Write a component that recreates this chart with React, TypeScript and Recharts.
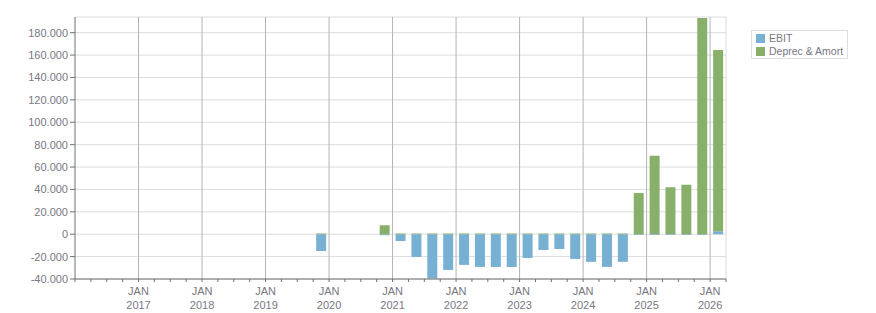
import React from 'react';
import { BarChart, Bar, XAxis, YAxis, CartesianGrid, ReferenceLine } from 'recharts';

// one entry per quarter, Q1 2016 .. Q1 2026
const quarters = [
  'Q1 2016', 'Q2 2016', 'Q3 2016', 'Q4 2016',
  'Q1 2017', 'Q2 2017', 'Q3 2017', 'Q4 2017',
  'Q1 2018', 'Q2 2018', 'Q3 2018', 'Q4 2018',
  'Q1 2019', 'Q2 2019', 'Q3 2019', 'Q4 2019',
  'Q1 2020', 'Q2 2020', 'Q3 2020', 'Q4 2020',
  'Q1 2021', 'Q2 2021', 'Q3 2021', 'Q4 2021',
  'Q1 2022', 'Q2 2022', 'Q3 2022', 'Q4 2022',
  'Q1 2023', 'Q2 2023', 'Q3 2023', 'Q4 2023',
  'Q1 2024', 'Q2 2024', 'Q3 2024', 'Q4 2024',
  'Q1 2025', 'Q2 2025', 'Q3 2025', 'Q4 2025',
  'Q1 2026',
];

const ebit: (number | null)[] = [
  null, null, null, null,
  null, null, null, null,
  null, null, null, null,
  null, null, null, -14900,
  null, null, null, -900,
  -6000, -20300, -39500, -31900,
  -27400, -29200, -29200, -29200,
  -21200, -14000, -13100, -22100,
  -24700, -29200, -24700, -600,
  -600, -600, -600, -600,
  2700,
];

const deprecAmort: (number | null)[] = [
  null, null, null, null,
  null, null, null, null,
  null, null, null, null,
  null, null, null, 600,
  null, null, null, 8000,
  700, 700, 700, 700,
  700, 700, 700, 700,
  700, 700, 700, 700,
  700, 700, 700, 36900,
  70000, 42000, 44100, 193200,
  161900,
];

const yTicks = [-40000, -20000, 0, 20000, 40000, 60000, 80000, 100000, 120000, 140000, 160000, 180000];
const janTicks = [4, 8, 12, 16, 20, 24, 28, 32, 36, 40];
const janYears = ['2017', '2018', '2019', '2020', '2021', '2022', '2023', '2024', '2025', '2026'];

const series = [
  { key: 'ebit', name: 'EBIT', color: '#77b0d3' },
  { key: 'deprec', name: 'Deprec & Amort', color: '#89b06b' },
];

const chartData = quarters.map((q, i) => ({
  quarter: q,
  pos: i + 0.5,
  ebit: ebit[i],
  deprec: deprecAmort[i],
}));

const quarterTicks = quarters.map((_, i) => i).concat(quarters.length);

const FONT = '"Liberation Sans", Arial, sans-serif';
const TEXT = '#777782';
const AXIS = '#707070';

const formatThousands = (v: number) => {
  const s = Math.abs(v).toString().replace(/\B(?=(\d{3})+(?!\d))/g, '.');
  return v < 0 ? `-${s}` : s;
};

const XTick = ({ x, y, payload }: any) => {
  const k = janTicks.indexOf(payload.value);
  if (k < 0) return <g />;
  return (
    <text x={x} y={y} textAnchor="middle" fill={TEXT} fontSize={11} fontFamily={FONT}>
      <tspan x={x} dy={11}>JAN</tspan>
      <tspan x={x} dy={14}>{janYears[k]}</tspan>
    </text>
  );
};

export default function App() {
  return (
    <div style={{ position: 'absolute', left: 0, top: 0, width: 876, height: 313, background: '#fff', fontFamily: FONT }}>
      <BarChart
        width={876}
        height={313}
        data={chartData}
        stackOffset="sign"
        margin={{ top: 17, right: 150, bottom: 4, left: 15 }}
      >
        <CartesianGrid vertical={false} stroke="#dcdcdc" />
        {janTicks.map((t) => (
          <ReferenceLine key={t} x={t} stroke="#b4b4b4" />
        ))}
        <ReferenceLine x={quarters.length} stroke="#dcdcdc" />
        <XAxis
          dataKey="pos"
          type="number"
          domain={[0, quarters.length]}
          ticks={quarterTicks}
          interval={0}
          height={30}
          tickSize={3}
          tickMargin={2}
          stroke={AXIS}
          tick={<XTick />}
        />
        <YAxis
          type="number"
          domain={[-40000, 194000]}
          ticks={yTicks}
          interval={0}
          width={60}
          tickSize={5}
          tickMargin={2}
          stroke={AXIS}
          tick={{ fill: TEXT, fontSize: 11, fontFamily: FONT }}
          tickFormatter={formatThousands}
          allowDataOverflow
        />
        {series.map((s) => (
          <Bar
            key={s.key}
            dataKey={s.key}
            name={s.name}
            stackId="a"
            fill={s.color}
            barSize={10}
            isAnimationActive={false}
          />
        ))}
      </BarChart>
      <div
        style={{
          position: 'absolute',
          left: 751,
          top: 30,
          width: 95,
          height: 27,
          border: '1px solid #dedede',
          fontSize: 10.5,
          color: TEXT,
          lineHeight: '13px',
          padding: 0,
        }}
      >
        {series.map((s, i) => (
          <div key={s.key} style={{ position: 'absolute', left: 4, top: 1 + i * 13, whiteSpace: 'nowrap', display: 'flex', alignItems: 'center' }}>
            <span style={{ display: 'inline-block', width: 9, height: 9, background: s.color, marginRight: 4 }} />
            <span>{s.name}</span>
          </div>
        ))}
      </div>
    </div>
  );
}
